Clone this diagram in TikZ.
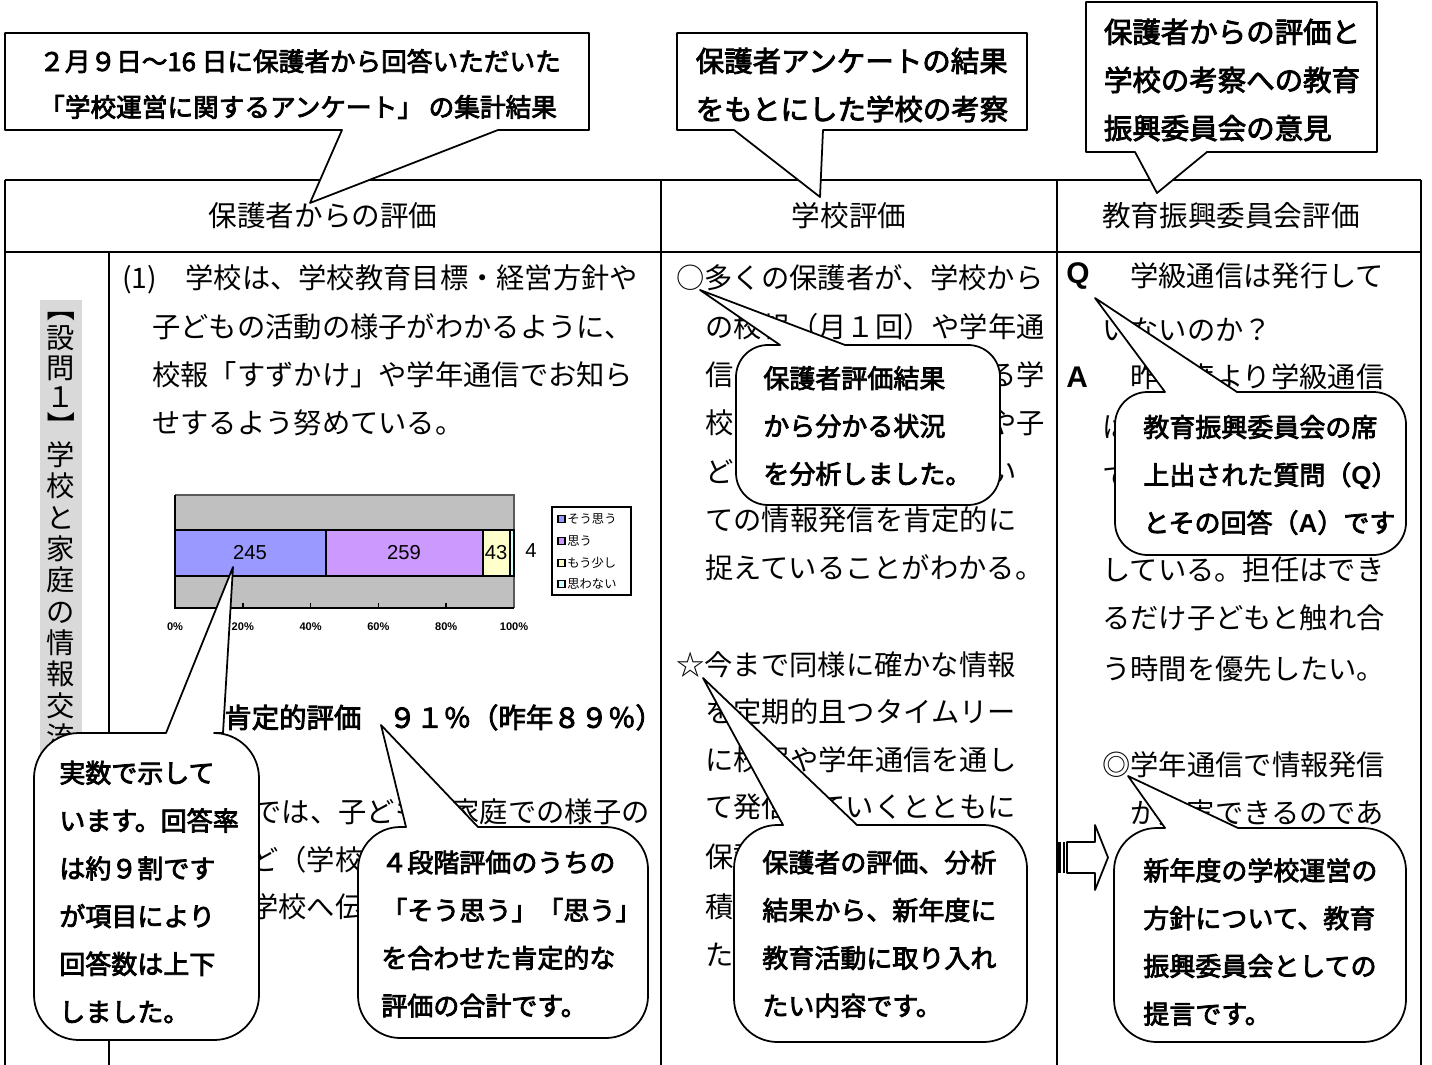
\documentclass[tikz,border=0pt]{standalone}
\usepackage{fontspec}
\setmainfont{Liberation Serif}
\newfontfamily\jp{Noto Sans CJK JP}
\newfontfamily\jpm{Noto Sans CJK JP}[FakeBold=3]
\newfontfamily\arial{Liberation Sans}
\usetikzlibrary{calc}
\definecolor{barA}{HTML}{9999FF}
\definecolor{barB}{HTML}{CC99FF}
\definecolor{barC}{HTML}{FFFFCC}
\definecolor{barD}{HTML}{CCFFFF}
\definecolor{plotgray}{HTML}{C0C0C0}
\definecolor{striptint}{HTML}{D9D9D9}
% rounded callout: tip (#1,#2), tail from x #3 to #4 on the top edge, box (#5,#6)-(#7,#8)
\def\bubble(#1,#2)[#3:#4](#5,#6)(#7,#8){\pgfmathsetmacro\rr{min(#7-#5,#8-#6)/5}\pgfmathsetmacro\kk{0.448*\rr}\draw[bubble] (#1,#2) -- (#4,#6) -- ({#7-\rr},#6) .. controls ({#7-\kk},#6) and (#7,{#6+\kk}) .. (#7,{#6+\rr}) -- (#7,{#8-\rr}) .. controls (#7,{#8-\kk}) and ({#7-\kk},#8) .. ({#7-\rr},#8) -- ({#5+\rr},#8) .. controls ({#5+\kk},#8) and (#5,{#8-\kk}) .. (#5,{#8-\rr}) -- (#5,{#6+\rr}) .. controls (#5,{#6+\kk}) and ({#5+\kk},#6) .. ({#5+\rr},#6) -- (#3,#6) -- cycle;}
% square callout: tip (#1,#2), tail from x #3 to #4 on the bottom edge, box (#5,#6)-(#7,#8)
\def\note(#1,#2)[#3:#4](#5,#6)(#7,#8){\draw[bubble] (#5,#6) -- (#7,#6) -- (#7,#8) -- (#4,#8) -- (#1,#2) -- (#3,#8) -- (#5,#8) -- cycle;}

\begin{document}
\begin{tikzpicture}[x=0.02cm, y=-0.02cm,
  rule/.style={line width=1.2pt},
  bubble/.style={draw, line width=1pt, fill=white, line join=round},
  body/.style={font=\jp\fontsize{16.1}{19}\selectfont, inner sep=0pt, text height=14.2pt, text depth=1.9pt},
  head/.style={font=\jp\fontsize{16.3}{19}\selectfont, inner sep=0pt},
  say/.style={font=\jpm\fontsize{14.8}{27.2}\selectfont, align=left, inner sep=0pt, anchor=west},
  tag/.style={font=\jpm\fontsize{16.2}{27.4}\selectfont, align=left, inner sep=0pt},
  num/.style={font=\arial\fontsize{11.5}{12}\selectfont, inner sep=0pt},
  pct/.style={font=\arial\bfseries\fontsize{6.3}{7}\selectfont, inner sep=0pt},
  legendtxt/.style={font=\jp\fontsize{7}{8}\selectfont, inner sep=0pt, anchor=west},
  qa/.style={font=\arial\bfseries\fontsize{17}{19}\selectfont, inner sep=0pt, anchor=west}]
		%%%%% START %%%%%
		\useasboundingbox (0,0) rectangle (1432,1064);
		
		% table
		\draw[rule] (5,180) -- (1421,180);
		\draw[rule] (5,252) -- (1421,252);
		\foreach \xx in {5,661,1057,1421} \draw[rule] (\xx,180) -- (\xx,1070);
		\draw[rule] (109,252) -- (109,1070);
		
		\node[head] (hParent) at (323,216) {保護者からの評価};
		\node[head] (hSchool) at (849,216) {学校評価};
		\node[head] (hBoard) at (1231,216) {教育振興委員会評価};
		
		% vertical title
		\fill[striptint] (40,300) rectangle (82,760);
		\foreach \glyph/\yy/\turn [count=\i] in {【/308/-90, 設/338/0, 問/368/0, １/397/0, 】/426/-90, 学/455/0, 校/486/0, と/518/0, 家/549/0, 庭/580/0, の/612/0, 情/643/0, 報/674/0, 交/706/0, 流/737/0}
			\node[body, rotate=\turn] (v\i) at (61,\yy) {\glyph};
		
		% parents column
		\node[body, anchor=west] (p1) at (122,278) {(1)　学校は、学校教育目標・経営方針や};
		\foreach \t/\yy [count=\i from 2] in {子どもの活動の様子がわかるように、/327, 校報「すずかけ」や学年通信でお知ら/375, せするよう努めている。/423}
			\node[body, anchor=west] (p\i) at (152,\yy) {\t};
		\node[body, font=\jpm\fontsize{15.6}{19}\selectfont, anchor=west] (p5) at (224,717) {肯定的評価　９１％（昨年８９％）};
		\node[body, anchor=east] (p6) at (650,812) {では、子どもの家庭での様子の};
		\node[body, anchor=west] (p7) at (250,860) {ど（学校};
		\node[body, anchor=west] (p8) at (250,907) {学校へ伝};
		
		% chart
		\fill[plotgray] (175,495) rectangle (514,608);
		\draw[gray!70!black, line width=0.6pt] (175,495) -- (514,495) -- (514,608);
		\draw[line width=1pt] (175,495) -- (175,608) -- (514,608);
		\foreach \k in {1,...,4} \draw[line width=1pt] ({175+67.8*\k},608) -- ({175+67.8*\k},603);
		\foreach \k/\lab in {0/0\%, 1/20\%, 2/40\%, 3/60\%, 4/80\%, 5/100\%}
			\node[pct] (ax\k) at ({175+67.8*\k},627) {\lab};
		\foreach \a/\b/\col in {175/326/barA, 326/483/barB, 483/510/barC, 510/514/barD}
			\draw[line width=1.2pt, fill=\col] (\a,530) rectangle (\b,576);
		\node[num] (n245) at (250,553) {245};
		\node[num] (n259) at (404,553) {259};
		\node[num] (n43) at (496,553) {43};
		\node[num] (n4) at (531,551) {4};
		\draw[line width=1.2pt, fill=white] (552,507) rectangle (631,595);
		\foreach \col/\lab/\yy [count=\i] in {barA/そう思う/519, barB/思う/541, barC/もう少し/563, barD/思わない/584} {
			\draw[line width=0.8pt, fill=\col] (558,{\yy-3.5}) rectangle +(7,7);
			\node[legendtxt] (lg\i) at (567,\yy) {\lab};
		}
		
		% school column
		\node[body, anchor=west] (s1) at (676,278) {○多くの保護者が、学校から};
		\node[body, anchor=west] (s2) at (705,327) {の校報（月１回）や学年通};
		\node[body, anchor=west] (s3) at (705,375) {信};
		\node[body, anchor=east] (s3r) at (1045,375) {る学};
		\node[body, anchor=west] (s4) at (705,423) {校};
		\node[body, anchor=east] (s4r) at (1045,423) {や子};
		\node[body, anchor=west] (s5) at (705,472) {ど};
		\node[body, anchor=east] (s5r) at (1017,472) {い};
		\node[body, anchor=west] (s6) at (705,520) {ての情報発信を肯定的に};
		\node[body, anchor=west] (s7) at (705,568) {捉えていることがわかる。};
		\node[body, anchor=west] (s8) at (676,665) {☆今まで同様に確かな情報};
		\foreach \t/\yy [count=\i from 9] in {を定期的且つタイムリー/712, に校報や学年通信を通し/760, て発信していくとともに/807, 保護/857, 積/907, た/955}
			\node[body, anchor=west] (s\i) at (705,\yy) {\t};
		
		% board column
		\node[qa] (q) at (1066,276) {Q};
		\node[body, anchor=west] (b1) at (1130,276) {学級通信は発行して};
		\node[body, anchor=west] (b2) at (1102,330) {いないのか？};
		\node[qa] (a) at (1066,377) {A};
		\node[body, anchor=west] (b3) at (1130,377) {昨年度より学級通信};
		\foreach \t/\yy [count=\i from 4] in {は/427, て/477, している。担任はでき/570, るだけ子どもと触れ合/618, う時間を優先したい。/669, ◎学年通信で情報発信/765}
			\node[body, anchor=west] (b\i) at (1102,\yy) {\t};
		\node[body, anchor=west] (b10) at (1130,813) {が充実できるのであ};
		
		% callouts over the table
		\bubble(233,567)[166:223](34,733)(259,1040);
		\node[say] (c1) at (59,892) {実数で示して\\います。回答率\\は約９割です\\が項目により\\回答数は上下\\しました。};
		
		\bubble(381,725)[406:478](358,827)(648,1038);
		\node[say] (c2) at (381,934) {４段階評価のうちの\\「そう思う」「思う」\\を合わせた肯定的な\\評価の合計です。};
		
		\bubble(700,290)[780:845](736,345)(1000,505);
		\node[say] (c3) at (763,426) {保護者評価結果\\から分かる状況\\を分析しました。};
		
		\bubble(703,678)[783:857](734,825)(1027,1042);
		\node[say] (c4) at (762,934) {保護者の評価、分析\\結果から、新年度に\\教育活動に取り入れ\\たい内容です。};
		
		\bubble(1095,298)[1165:1237](1115,392)(1406,555);
		\node[say] (c5) at (1143,475) {教育振興委員会の席\\上出された質問（{\arial\bfseries Q}）\\とその回答（{\arial\bfseries A}）です};
		
		\bubble(1128,776)[1165:1238](1114,828)(1406,1042);
		\node[say] (c6) at (1143,942) {新年度の学校運営の\\方針について、教育\\振興委員会としての\\提言です。};
		
		% striped arrow
		\fill (1057,842) rectangle (1061,873);
		\draw[line width=0.8pt] (1064,842) -- (1064,873);
		\draw[line width=1pt, fill=white, line join=round] (1067,842) -- (1095,842) -- (1095,825) -- (1108,857.5) -- (1095,890) -- (1095,873) -- (1067,873) -- cycle;
		
		% callouts over the header
		\note(310,203)[342:498](5,33)(589,130);
		\node[tag, font=\jpm\fontsize{14.6}{26}\selectfont] (n1) at (300,84) {２月９日～16 日に保護者から回答いただいた\\「学校運営に関するアンケート」 の集計結果};
		
		\note(820,197)[734:823](677,33)(1027,130);
		\node[tag] (n2) at (852,85) {保護者アンケートの結果\\をもとにした学校の考察};
		
		\note(1157,193)[1135:1207](1086,2)(1377,152);
		\node[tag] (n3) at (1232,80) {保護者からの評価と\\学校の考察への教育\\振興委員会の意見};
		
		%%%%% END %%%%%
	\end{tikzpicture}
\end{document}
